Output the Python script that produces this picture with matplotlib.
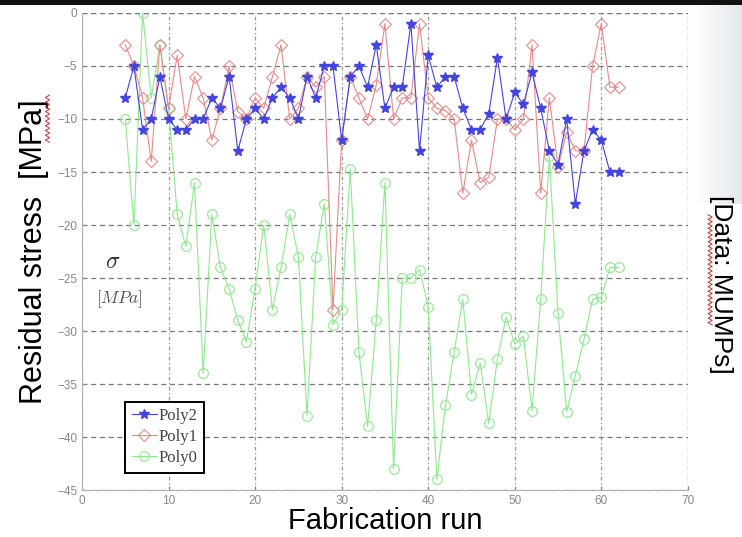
import numpy as np
import matplotlib.pyplot as plt
from matplotlib.patches import Rectangle
from matplotlib.colors import LinearSegmentedColormap

# fabrication runs and residual stress per polysilicon layer [MPa]
run_poly2 = list(range(5, 63))
stress_poly2 = [-8, -5, -11, -10, -6, -10, -11, -11, -10, -10,
                -8, -9, -6, -13, -10, -9, -10, -8, -7, -8,
                -10, -6, -8, -5, -5, -12, -6, -5, -7, -3,
                -9, -7, -7, -1, -13, -4, -7, -6, -6, -9,
                -11, -11, -9.5, -4.2, -10, -7.5, -8.6, -5.6, -9, -13,
                -14.3, -10, -18, -13, -11, -12, -15, -15]

run_poly1 = list(range(5, 63))
stress_poly1 = [-3, -5, -8, -14, -3, -9, -4, -10, -6, -8,
                -12, -9, -5, -9.3, -10, -8, -9, -6, -3, -10,
                -9, -6, -7, -6, -28, -12, -6, -8, -10, -6.8,
                -1, -10, -8, -8, -1, -8, -9, -9.2, -10, -17,
                -12, -16, -15.5, -10, -10, -11, -10, -3, -17, -8,
                -14.5, -11.2, -13, -13, -5, -1, -7, -7]

run_poly0 = list(range(5, 63))
stress_poly0 = [-10, -20, 0, -8, -3, -9, -19, -22, -16, -34,
                -19, -24, -26, -29, -31, -26, -20, -28, -24, -19,
                -23, -38, -23, -18, -29.4, -28, -14.7, -32, -39, -29,
                -16, -43, -25, -25, -24.2, -27.7, -44, -37, -32, -27,
                -36, -33, -38.7, -32.6, -28.7, -31.2, -30.5, -37.5, -27, -13.5,
                -28.3, -37.6, -34.2, -30.8, -27, -26.8, -24, -24]

x_ticks = [0, 10, 20, 30, 40, 50, 60, 70]
y_ticks = [0, -5, -10, -15, -20, -25, -30, -35, -40, -45]

plt.rcParams['font.family'] = ['Liberation Sans', 'DejaVu Sans']
plt.rcParams['mathtext.fontset'] = 'cm'

fig = plt.figure(figsize=(7.42, 5.37), dpi=100)
ax = fig.add_axes([0.1105, 0.0875, 0.8165, 0.8883])

# dark strip along the top and faint shading at the right edge
fig.patches.append(Rectangle((0, 0.99), 1, 0.01, transform=fig.transFigure,
                             facecolor='#111111', edgecolor='none', zorder=0))
shade = LinearSegmentedColormap.from_list('shade', ['#ffffff', '#e4e7ea'])
grad = np.linspace(0, 1, 64).reshape(1, -1)
gax = fig.add_axes([0.935, 0.62, 0.065, 0.37], zorder=-1)
gax.imshow(grad, aspect='auto', cmap=shade)
gax.axis('off')

ax.plot(run_poly0, stress_poly0, '-o', color='#8fe88f', lw=0.8, ms=7,
        mfc='none', mec='#8fe88f', mew=0.8, label='Poly0', zorder=2)
ax.plot(run_poly1, stress_poly1, '-D', color='#e88a8a', lw=0.8, ms=6.5,
        mfc='none', mec='#e88a8a', mew=0.8, label='Poly1', zorder=3)
ax.plot(run_poly2, stress_poly2, '-*', color='#4444de', lw=0.8, ms=7,
        mec='#4444de', label='Poly2', zorder=4)

ax.set_xlim(0, 70)
ax.set_ylim(-45, 0)
ax.set_xticks(x_ticks)
ax.set_yticks(y_ticks)
ax.tick_params(axis='both', colors='#888888', labelsize=8.5, direction='in',
               length=3, labelcolor='#888888')
for side in ['top', 'right']:
    ax.spines[side].set_visible(False)
for side in ['left', 'bottom']:
    ax.spines[side].set_color('#b0b0b0')

ax.yaxis.grid(True, ls=(0, (4, 3)), color='#777777', lw=0.9)
ax.xaxis.grid(True, ls=(0, (3, 2, 1, 2)), color='#999999', lw=0.9)
ax.axhline(0, ls=(0, (4, 3)), color='#777777', lw=0.9)
ax.axvline(70, ls=(0, (3, 2, 1, 2)), color='#999999', lw=0.9)
ax.set_axisbelow(True)

ax.set_xlabel('Fabrication run', fontsize=21, labelpad=0)
ax.set_ylabel('Residual stress  [MPa]', fontsize=22, va='bottom')
ax.yaxis.set_label_coords(-0.055, 0.5)

ax.text(3.6, -23.5, r'$\sigma$', fontsize=17, color='#333333',
        ha='center', va='center')
ax.text(4.3, -27.0, r'$[MPa]$', fontsize=12.5, color='#555555',
        ha='center', va='center')

fig.text(0.972, 0.47, '[Data: MUMPs]', rotation=270, fontsize=19,
         ha='center', va='center')

handles, labels = ax.get_legend_handles_labels()
leg = ax.legend(handles[::-1], labels[::-1], loc='lower left',
                bbox_to_anchor=(0.071, 0.036),
                prop={'family': 'Liberation Serif', 'size': 12},
                fancybox=False, edgecolor='black', framealpha=1,
                handlelength=1.5, handletextpad=0.1, borderpad=0.4,
                labelspacing=0.3, borderaxespad=0)
leg.get_frame().set_linewidth(1.4)
for t in leg.get_texts():
    t.set_color('#444444')

# spell-check squiggles under the unit words
def squiggle(x0, y_start, y_end):
    n = int(abs(y_end - y_start) * 537 / 2.2)
    ys = np.linspace(y_start, y_end, n)
    xs = x0 + 0.0028 * np.where(np.arange(n) % 2 == 0, 1, -1)
    fig.add_artist(plt.Line2D(xs, ys, color='#d03030', lw=0.7,
                              transform=fig.transFigure))

squiggle(0.064, 0.735, 0.823)
squiggle(0.957, 0.395, 0.60)

fig.savefig('out.png', dpi=100)
